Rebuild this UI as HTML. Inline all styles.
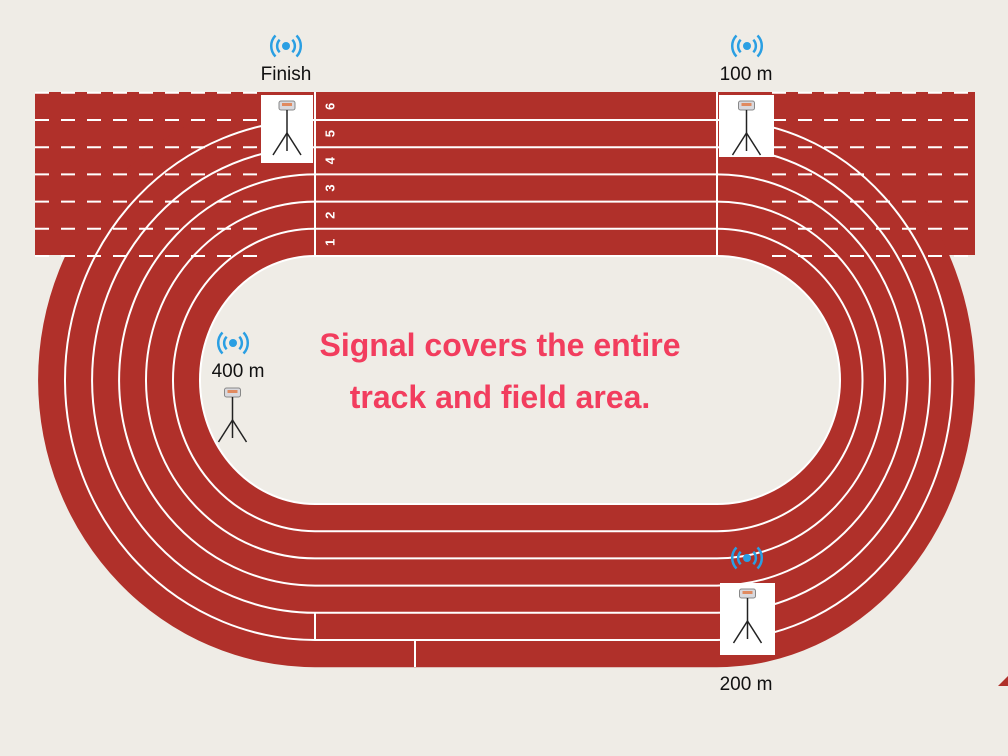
<!DOCTYPE html>
<html><head><meta charset="utf-8"><style>
html,body{margin:0;padding:0;background:#efece6;}
svg{display:block;font-family:"Liberation Sans",sans-serif;}
</style></head><body>
<svg width="1008" height="756" viewBox="0 0 1008 756">
<rect x="0" y="0" width="1008" height="756" fill="#efece6"/>
<g id="track"></g>
<g id="devices"></g>
<text x="500" y="356" text-anchor="middle" font-size="32" font-weight="bold" fill="#f23d5e">Signal covers the entire</text>
<text x="500" y="408" text-anchor="middle" font-size="32" font-weight="bold" fill="#f23d5e">track and field area.</text>
<text x="286" y="80" text-anchor="middle" font-size="19" fill="#111">Finish</text>
<text x="746" y="80" text-anchor="middle" font-size="19" fill="#111">100 m</text>
<text x="238" y="377" text-anchor="middle" font-size="19" fill="#111">400 m</text>
<text x="746" y="690" text-anchor="middle" font-size="19" fill="#111">200 m</text>
<polygon points="1008,676 1008,686 998,686" fill="#b0302a"/>
</svg>
<script>
const NS="http://www.w3.org/2000/svg";
const red="#b0302a";
const x1=315,x2=717,cy=380;
function el(t,a,p){const e=document.createElementNS(NS,t);for(const k in a)e.setAttribute(k,a[k]);p.appendChild(e);return e;}
function stad(k){const rl=115+27*k,rr=123+22.5*k,ry=124+27.2*k;
return `M${x1},${cy-ry} L${x2},${cy-ry} A${rr},${ry} 0 0 1 ${x2},${cy+ry} L${x1},${cy+ry} A${rl},${ry} 0 0 1 ${x1},${cy-ry} Z`;}
const g=document.getElementById('track');
let r=el('rect',{x:35,y:92,width:940,height:163,fill:red},g);


let o=el('path',{d:stad(6),fill:red},g);


for(let k=0;k<=6;k++){const y=cy-(124+27.2*k);
 for(const [a,b] of [[35,262],[772,975]]){
  const d=el('line',{x1:a,y1:y,x2:b,y2:y,stroke:'#fff','stroke-width':2,'stroke-dasharray':'14 12'},g);
  
  }}
let inf=el('path',{d:stad(0),fill:'#efece6',stroke:'#fff','stroke-width':2},g);


for(let k=1;k<=5;k++){const p=el('path',{d:stad(k),fill:'none',stroke:'#fff','stroke-width':2},g);
 
 }
[[315,92,315,255],[717,92,717,255],[315,613,315,640],[415,640,415,667]].forEach(c=>{
 const l=el('line',{x1:c[0],y1:c[1],x2:c[2],y2:c[3],stroke:'#fff','stroke-width':2},g);
 
 });
for(let n=1;n<=6;n++){const y=cy-124-27.2*(n-0.5);
 const t=el('text',{x:331,y:y,'font-size':13,'font-weight':'bold',fill:'#fff','text-anchor':'middle','dominant-baseline':'middle',transform:`rotate(-90 331 ${y})`},g);
 t.textContent=n;
 
 }
const dv=document.getElementById('devices');
function device(x,y,w,h,box,name){
 const gg=el('g',{},dv);
 
 
 if(box)el('rect',{x:x,y:y,width:w,height:h,fill:'#fff'},gg);
 const cx=x+w/2,t=y+6;
 el('rect',{x:cx-8,y:t,width:16,height:9,rx:2,fill:'#d9d9de',stroke:'#888','stroke-width':1},gg);
 el('rect',{x:cx-5,y:t+2,width:10,height:3,fill:'#e08a60'},gg);
 el('line',{x1:cx,y1:t+9,x2:cx,y2:t+50,stroke:'#222','stroke-width':1.5},gg);
 el('line',{x1:cx,y1:t+32,x2:cx-14,y2:t+54,stroke:'#222','stroke-width':1.5},gg);
 el('line',{x1:cx,y1:t+32,x2:cx+14,y2:t+54,stroke:'#222','stroke-width':1.5},gg);}
function wifi(x,y,name){
 const gg=el('g',{fill:'none',stroke:'#2a9fe3','stroke-width':2.5},dv);
 
 
 el('circle',{cx:x,cy:y,r:4,fill:'#2a9fe3',stroke:'none'},gg);
 [9,15].forEach(rr=>{
  el('path',{d:`M${x-rr*0.7},${y-rr*0.7} A${rr},${rr} 0 0 0 ${x-rr*0.7},${y+rr*0.7}`},gg);
  el('path',{d:`M${x+rr*0.7},${y-rr*0.7} A${rr},${rr} 0 0 1 ${x+rr*0.7},${y+rr*0.7}`},gg);});}
device(261,95,52,68,true,'finish-device');
device(719,95,55,62,true,'100m-device');
device(720,583,55,72,true,'200m-device');
device(205,382,55,62,false,'400m-device');
wifi(286,46,'finish-signal-icon');
wifi(747,46,'100m-signal-icon');
wifi(233,343,'400m-signal-icon');
wifi(747,558,'200m-signal-icon');
</script>
</body></html>
